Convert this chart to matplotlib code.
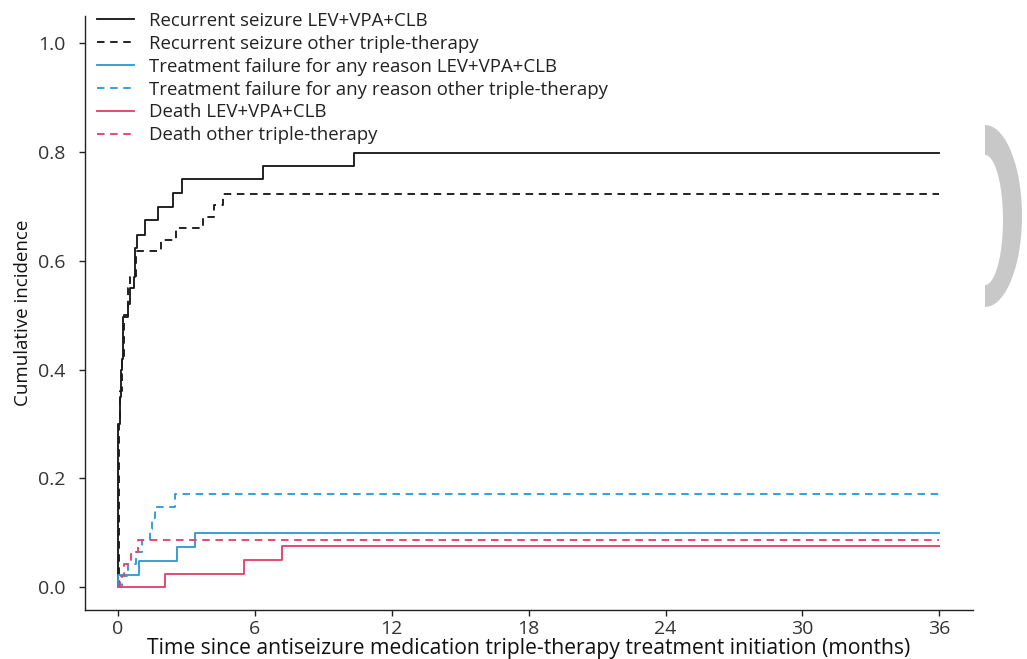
import matplotlib.pyplot as plt
from matplotlib.patches import Polygon
import numpy as np

plt.rcParams['font.family'] = ['Open Sans', 'DejaVu Sans']

# Cumulative incidence step curves (time in months, value)
rs_lev_t = [0, 0, 0.1, 0.15, 0.2, 0.25, 0.45, 0.55, 0.7, 0.76, 0.83, 1.22, 1.78, 2.41, 2.83, 6.38, 10.36, 36]
rs_lev_v = [0, 0.30, 0.35, 0.40, 0.42, 0.497, 0.52, 0.55, 0.57, 0.623, 0.647, 0.675, 0.699, 0.725, 0.75, 0.774, 0.799, 0.799]

rs_oth_t = [0, 0.05, 0.12, 0.2, 0.3, 0.45, 0.55, 0.8, 1.88, 2.55, 3.75, 4.22, 4.63, 36]
rs_oth_v = [0, 0.30, 0.36, 0.42, 0.50, 0.55, 0.57, 0.618, 0.639, 0.66, 0.681, 0.702, 0.7225, 0.7225]

tf_lev_t = [0, 0.03, 0.95, 2.61, 3.39, 36]
tf_lev_v = [0, 0.022, 0.048, 0.0735, 0.099, 0.099]

tf_oth_t = [0, 0.2, 0.45, 0.8, 1.05, 1.4, 1.5, 1.62, 2.5, 36]
tf_oth_v = [0, 0.021, 0.043, 0.064, 0.086, 0.107, 0.128, 0.148, 0.171, 0.171]

d_lev_t = [0, 2.09, 5.55, 7.2, 36]
d_lev_v = [0, 0.025, 0.050, 0.075, 0.075]

d_oth_t = [0, 0.1, 0.3, 0.6, 0.9, 36]
d_oth_v = [0, 0.021, 0.043, 0.064, 0.086, 0.086]

labels = [
    "Recurrent seizure LEV+VPA+CLB",
    "Recurrent seizure other triple-therapy",
    "Treatment failure for any reason LEV+VPA+CLB",
    "Treatment failure for any reason other triple-therapy",
    "Death LEV+VPA+CLB",
    "Death other triple-therapy",
]

black = "#1a1a1a"
blue = "#2f9bd6"
red = "#e2456a"

fig = plt.figure(figsize=(10.27, 6.59), dpi=100)
ax = fig.add_axes([85 / 1027, 49 / 659, 888 / 1027, 594 / 659])

lw = 1.35
dash = (0, (4, 3))
series = [
    (rs_lev_t, rs_lev_v, black, '-'),
    (rs_oth_t, rs_oth_v, black, dash),
    (tf_lev_t, tf_lev_v, blue, '-'),
    (tf_oth_t, tf_oth_v, blue, dash),
    (d_lev_t, d_lev_v, red, '-'),
    (d_oth_t, d_oth_v, red, dash),
]
for (t, v, c, ls), lab in zip(series, labels):
    ax.step(t, v, where='post', color=c, linestyle=ls, linewidth=lw, label=lab)

ax.set_xlim(-1.43, 37.47)
ax.set_ylim(-0.042, 1.05)
ax.set_xticks([0, 6, 12, 18, 24, 30, 36])
ax.set_yticks([0.0, 0.2, 0.4, 0.6, 0.8, 1.0])
ax.set_yticklabels(["0.0", "0.2", "0.4", "0.6", "0.8", "1.0"])

for s in ['top', 'right']:
    ax.spines[s].set_visible(False)
for s in ['left', 'bottom']:
    ax.spines[s].set_color('#222222')
    ax.spines[s].set_linewidth(1.0)
ax.tick_params(axis='both', direction='out', length=4, width=1.0, color='#222222',
               labelsize=14, labelcolor='#333333')
ax.tick_params(axis='y', pad=10)
ax.tick_params(axis='x', pad=3)

ax.set_xlabel("Time since antiseizure medication triple-therapy treatment initiation (months)",
              fontsize=15.2, color='#111111', labelpad=0)
ax.set_ylabel("Cumulative incidence", fontsize=13.5, color='#111111', labelpad=4)

leg = ax.legend(loc='upper left', bbox_to_anchor=(97 / 1027, 1 - 12 / 659),
                bbox_transform=fig.transFigure, frameon=False, fontsize=13.4,
                handlelength=2.0, handletextpad=0.8, labelspacing=0.26,
                borderaxespad=0, borderpad=0)
for txt in leg.get_texts():
    txt.set_color('#222222')

# grey crescent in the right margin of the reference image
W, H = 1027, 659
ang = np.linspace(-np.pi / 2, np.pi / 2, 40)
outer = [(985 + 37 * np.cos(a), 216 - 91 * np.sin(a)) for a in ang]
inner = [(985 + 18 * np.cos(a), 220 - 65 * np.sin(a)) for a in ang[::-1]]
pts = [(x / W, 1 - y / H) for x, y in outer + inner]
fig.patches.append(Polygon(pts, closed=True, transform=fig.transFigure,
                           facecolor='#c8c8c8', edgecolor='none'))

fig.savefig("out.png", dpi=100)
